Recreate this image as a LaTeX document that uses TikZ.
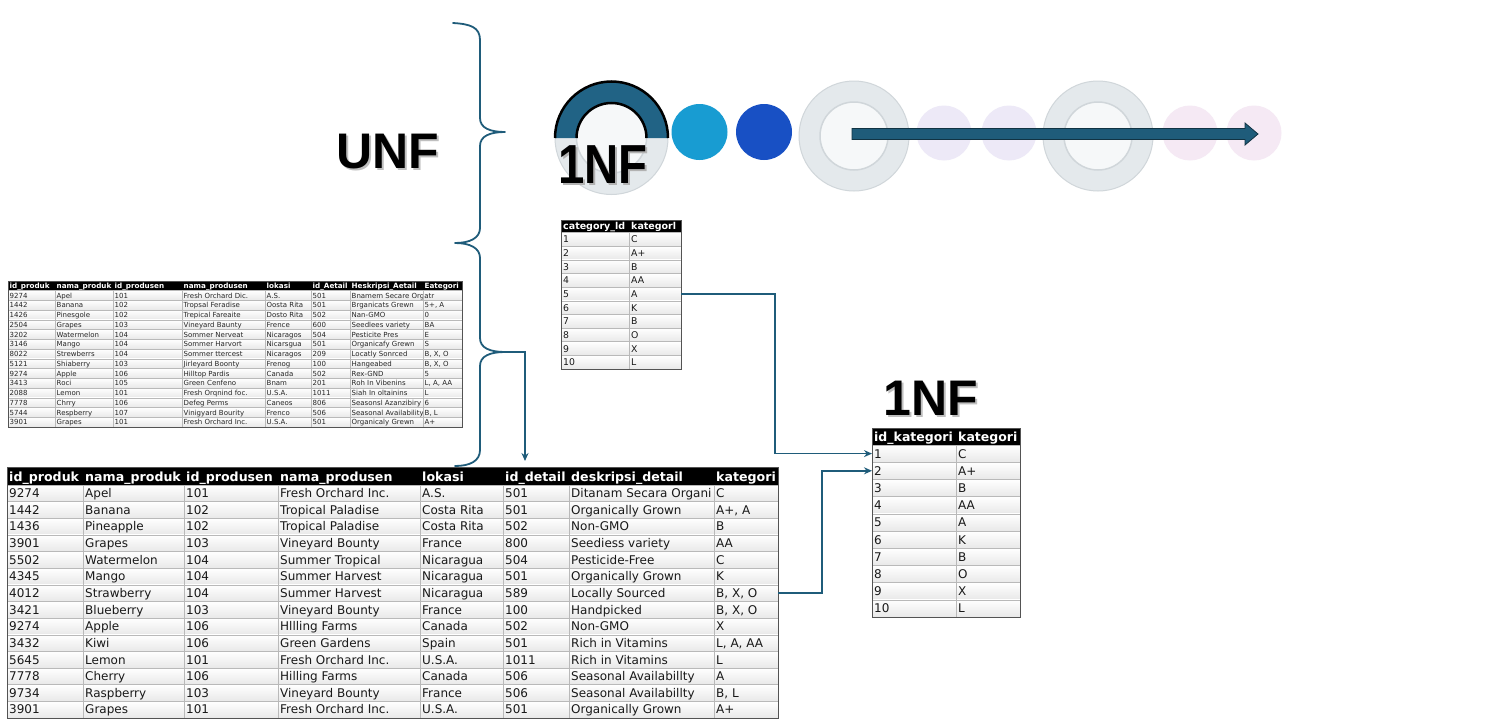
\documentclass[tikz,border=0pt]{standalone}
\usepackage{fontspec}
\setmainfont{DejaVu Sans}
\newfontfamily\headfont{Liberation Sans}
\usetikzlibrary{arrows.meta}
\definecolor{tealc}{RGB}{31,92,122}
\definecolor{arcteal}{RGB}{33,99,133}
\definecolor{lblue}{RGB}{24,156,210}
\definecolor{dblue}{RGB}{24,80,196}
\definecolor{ringfill}{RGB}{228,233,236}
\definecolor{ringedge}{RGB}{208,214,218}
\definecolor{innerfill}{RGB}{246,248,249}
\definecolor{lav}{RGB}{237,233,247}
\definecolor{pinkc}{RGB}{245,233,244}
\begin{document}
\begin{tikzpicture}[x=1pt,y=-1pt,
  conn/.style={draw=tealc, line width=1.6pt, -{Stealth[length=8pt,width=7pt]}},
  bracepath/.style={draw=tealc, line width=1.8pt, line cap=round, line join=round},
  rowcell/.style={draw=gray!55, line width=0.5pt, top color=white, bottom color=gray!18, inner sep=0pt, outer sep=0pt},
  hdrbox/.style={fill=black, draw=black, inner sep=0pt, outer sep=0pt},
  tabframe/.style={draw=gray!65!black, line width=0.7pt, inner sep=0pt, outer sep=0pt},
  vline/.style={draw=gray!55, line width=0.5pt},
  cell/.style={inner sep=0pt, anchor=base west, text=black!90},
  hcell/.style={inner sep=0pt, anchor=base west, text=white},
  bigc/.style={cell, font=\fontsize{12}{14}\selectfont},
  bigh/.style={hcell, font=\bfseries\fontsize{12.6}{15}\selectfont},
  smc/.style={cell, font=\fontsize{7}{8}\selectfont, text=black!85},
  smh/.style={hcell, font=\bfseries\fontsize{7.2}{8}\selectfont},
  catc/.style={cell, font=\fontsize{9.3}{11}\selectfont},
  cath/.style={hcell, font=\bfseries\fontsize{9.5}{11}\selectfont},
  rtc/.style={cell, font=\fontsize{12}{14}\selectfont},
  rth/.style={hcell, font=\bfseries\fontsize{12.5}{14}\selectfont},
  bigtxt/.style={inner sep=0pt, font=\headfont\bfseries\fontsize{50}{56}\selectfont},
]
\useasboundingbox (0,0) rectangle (1488,720);
\fill[white] (0,0) rectangle (1488,720);

% ---------- labels ----------
\node[bigtxt, text=black!25] (unf-sh) at (390,154) {UNF};
\node[bigtxt] (unf) at (388,152) {UNF};
\node[bigtxt, text=black!25] (nf-sh) at (933,400) {1NF};
\node[bigtxt] (nf) at (931,398) {1NF};

% ---------- top graphic ----------
\coordinate (arcC) at (611.5,138);
\fill[ringfill] (arcC) circle (56.5);
\draw[ringedge, line width=1pt] (arcC) circle (56.5);
\fill[innerfill] (arcC) circle (35);
\draw[ringedge, line width=1.5pt] (arcC) circle (35);
\fill[arcteal] (555,138) arc[start angle=180,end angle=360,radius=56.5] -- (646.5,138) arc[start angle=360,end angle=180,radius=35] -- cycle;
\draw[black, line width=2.5pt] (555,138) arc[start angle=180,end angle=360,radius=56.5];
\draw[black, line width=2.5pt] (646.5,138) arc[start angle=360,end angle=180,radius=35];
\node[inner sep=0pt, text=black!30] (nf1-sh) at (605,167) {\headfont\bfseries\fontsize{55}{60}\selectfont\scalebox{0.86}[1]{1NF}};
\node[inner sep=0pt] (nf1) at (603,165) {\headfont\bfseries\fontsize{55}{60}\selectfont\scalebox{0.86}[1]{1NF}};

\fill[lblue] (699.5,132) circle (28);
\fill[dblue] (764,132) circle (28);
\foreach \cx in {854,1098} {
  \fill[ringfill] (\cx,136) circle (55);
  \draw[ringedge, line width=1pt] (\cx,136) circle (55);
  \fill[innerfill] (\cx,136) circle (34);
  \draw[ringedge, line width=1.5pt] (\cx,136) circle (34);
}
\fill[lav] (944,133) circle (27.5);
\fill[lav] (1009,133) circle (27.5);
\fill[pinkc] (1190,133) circle (27.5);
\fill[pinkc] (1254,133) circle (27.5);
\fill[tealc, draw=tealc!55!black, line width=0.8pt] (852,128.5) -- (1245,128.5) -- (1245,123) -- (1258,134) -- (1245,145) -- (1245,139.5) -- (852,139.5) -- cycle;

% ---------- brace ----------
\draw[bracepath] (453,23) .. controls (470,24) and (480,27) .. (480,40) -- (480,118)
  .. controls (480,128) and (490,132) .. (505,132)
  .. controls (490,132) and (480,136) .. (480,146) -- (480,228)
  .. controls (480,238) and (470,243) .. (455,243)
  .. controls (470,243) and (480,248) .. (480,258) -- (480,338)
  .. controls (480,348) and (490,352) .. (505,352)
  .. controls (490,352) and (480,356) .. (480,366) -- (480,450)
  .. controls (480,461) and (470,466) .. (455,466);
\coordinate (btip) at (505,352);
\coordinate (bdown) at (525,461);
\draw[conn] (btip) -| (bdown);

% ---------- small UNF table ----------
\node[hdrbox, minimum width=454pt, minimum height=9.5pt, anchor=north west] (sm-h) at (8,281) {};
\foreach \t [count=\j] in {id\_produk,nama\_produk,id\_produsen,nama\_produsen,lokasi,id\_Aetail,Heskripsi\_Aetail,Eategori} {
  \pgfmathsetmacro\xx{{8,55,113,182,265,311,350,423}[\j-1]}
  \node[smh] (sm-h\j) at (\xx+1.5,288.3) {\t};
}
\foreach \r [count=\i] in {
 {9274,Apel,101,Fresh Orchard Dic.,A.S.,501,Bnamem Secare Orgatr},
 {1442,Banana,102,Tropsal Feradise,Oosta Rita,501,Brganicats Grewn,{5+, A}},
 {1426,Pinesgole,102,Trepical Fareaite,Dosto Rita,502,Nan-GMO,0},
 {2504,Grapes,103,Vineyard Baunty,Frence,600,Seedlees variety,BA},
 {3202,Watermelon,104,Sommer Nerveat,Nicaragos,504,Pesticite Pres,E},
 {3146,Mango,104,Sommer Harvort,Nicarsgua,501,Organicafy Grewn,S},
 {8022,Strewberrs,104,Sommer ttercest,Nicaragos,209,Locatly Sonrced,{B, X, O}},
 {5121,Shiaberry,103,Jirleyard Boonty,Frenog,100,Hangeabed,{B, X, O}},
 {9274,Apple,106,Hilltop Pardis,Canada,502,Rex-GND,5},
 {3413,Roci,105,Green Cenfeno,Bnam,201,Roh In Vibenins,{L, A, AA}},
 {2088,Lemon,101,Fresh Orqnind foc.,U.S.A.,1011,Siah In oltainins,L},
 {7778,Chrry,106,Defeg Perms,Caneos,806,Seasonsl Azanzibiry,6},
 {5744,Respberry,107,Vinigyard Bourity,Frenco,506,Seasonal Availability,{B, L}},
 {3901,Grapes,101,Fresh Orchard Inc.,U.S.A.,501,Organicaly Grewn,A+}} {
  \pgfmathsetmacro\yt{290.5+(\i-1)*9.75}
  \node[rowcell, minimum width=454pt, minimum height=9.75pt, anchor=north west] (sm-r\i) at (8,\yt) {};
  \foreach \c [count=\j] in \r {
    \pgfmathsetmacro\xx{{8,55,113,182,265,311,350,423}[\j-1]}
    \node[smc] (sm-\i-\j) at (\xx+1.5,\yt+7.5) {\c};
  }
}
\foreach \x in {55,113,182,265,311,350,423} \draw[vline] (\x,290.5) -- (\x,427);
\node[tabframe, minimum width=454pt, minimum height=146pt, anchor=north west] (smtab) at (8,281) {};

% ---------- category table ----------
\node[hdrbox, minimum width=120pt, minimum height=12.5pt, anchor=north west] (cat-h) at (561,220) {};
\node[cath] (cat-h1) at (563,229.8) {category\_ld};
\node[cath] (cat-h2) at (631,229.8) {kategorl};
\foreach \a/\b [count=\i] in {1/C,2/A+,3/B,4/AA,5/A,6/K,7/B,8/O,9/X,10/L} {
  \pgfmathsetmacro\yt{232.5+(\i-1)*13.65}
  \node[rowcell, minimum width=120pt, minimum height=13.65pt, anchor=north west] (cat-r\i) at (561,\yt) {};
  \node[catc] (cat-\i-1) at (563,\yt+10.3) {\a};
  \node[catc] (cat-\i-2) at (631,\yt+10.3) {\b};
}
\draw[vline] (629,232.5) -- (629,369);
\node[tabframe, minimum width=120pt, minimum height=149pt, anchor=north west] (cattab) at (561,220) {};

% ---------- right 1NF table ----------
\node[hdrbox, minimum width=148pt, minimum height=17pt, anchor=north west] (rt-h) at (872,428) {};
\node[rth] (rt-h1) at (874,441.5) {id\_kategori};
\node[rth] (rt-h2) at (958,441.5) {kategori};
\foreach \a/\b [count=\i] in {1/C,2/A+,3/B,4/AA,5/A,6/K,7/B,8/O,9/X,10/L} {
  \pgfmathsetmacro\yt{445+(\i-1)*17.2}
  \node[rowcell, minimum width=148pt, minimum height=17.2pt, anchor=north west] (rt-r\i) at (872,\yt) {};
  \node[rtc] (rt-\i-1) at (874,\yt+13) {\a};
  \node[rtc] (rt-\i-2) at (958,\yt+13) {\b};
}
\draw[vline] (956,445) -- (956,617);
\node[tabframe, minimum width=148pt, minimum height=189pt, anchor=north west] (rttab) at (872,428) {};

% ---------- big UNF table ----------
\node[hdrbox, minimum width=771pt, minimum height=18pt, anchor=north west] (big-h) at (7,467) {};
\foreach \t [count=\j] in {id\_produk,nama\_produk,id\_produsen,nama\_produsen,lokasi,id\_detail,deskripsi\_detail,kategori} {
  \pgfmathsetmacro\xx{{7,83,184,278,420,503,569,714}[\j-1]}
  \node[bigh] (big-h\j) at (\xx+2,481) {\t};
}
\foreach \r [count=\i] in {
 {9274,Apel,101,Fresh Orchard Inc.,A.S.,501,Ditanam Secara Organi,C},
 {1442,Banana,102,Tropical Paladise,Costa Rita,501,Organically Grown,{A+, A}},
 {1436,Pineapple,102,Tropical Paladise,Costa Rita,502,Non-GMO,B},
 {3901,Grapes,103,Vineyard Bounty,France,800,Seediess variety,AA},
 {5502,Watermelon,104,Summer Tropical,Nicaragua,504,Pesticide-Free,C},
 {4345,Mango,104,Summer Harvest,Nicaragua,501,Organically Grown,K},
 {4012,Strawberry,104,Summer Harvest,Nicaragua,589,Locally Sourced,{B, X, O}},
 {3421,Blueberry,103,Vineyard Bounty,France,100,Handpicked,{B, X, O}},
 {9274,Apple,106,Hllling Farms,Canada,502,Non-GMO,X},
 {3432,Kiwi,106,Green Gardens,Spain,501,Rich in Vitamins,{L, A, AA}},
 {5645,Lemon,101,Fresh Orchard Inc.,U.S.A.,1011,Rich in Vitamins,L},
 {7778,Cherry,106,Hilling Farms,Canada,506,Seasonal Availabillty,A},
 {9734,Raspberry,103,Vineyard Bounty,France,506,Seasonal Availabillty,{B, L}},
 {3901,Grapes,101,Fresh Orchard Inc.,U.S.A.,501,Organically Grown,A+}} {
  \pgfmathsetmacro\yt{485+(\i-1)*16.64}
  \node[rowcell, minimum width=771pt, minimum height=16.64pt, anchor=north west] (big-r\i) at (7,\yt) {};
  \foreach \c [count=\j] in \r {
    \pgfmathsetmacro\xx{{7,83,184,278,420,503,569,714}[\j-1]}
    \node[bigc] (big-\i-\j) at (\xx+2,\yt+12.6) {\c};
  }
}
\foreach \x in {83,184,278,420,503,569,714} \draw[vline] (\x,485) -- (\x,718);
\node[tabframe, minimum width=771pt, minimum height=251pt, anchor=north west] (bigtab) at (7,467) {};

% ---------- connectors ----------
\draw[conn] (cat-r5.east) -- ++(94,0) |- (rt-r1.west);
\draw[conn] (big-r7.east) -- ++(44,0) |- (rt-r2.west);
\end{tikzpicture}
\end{document}
